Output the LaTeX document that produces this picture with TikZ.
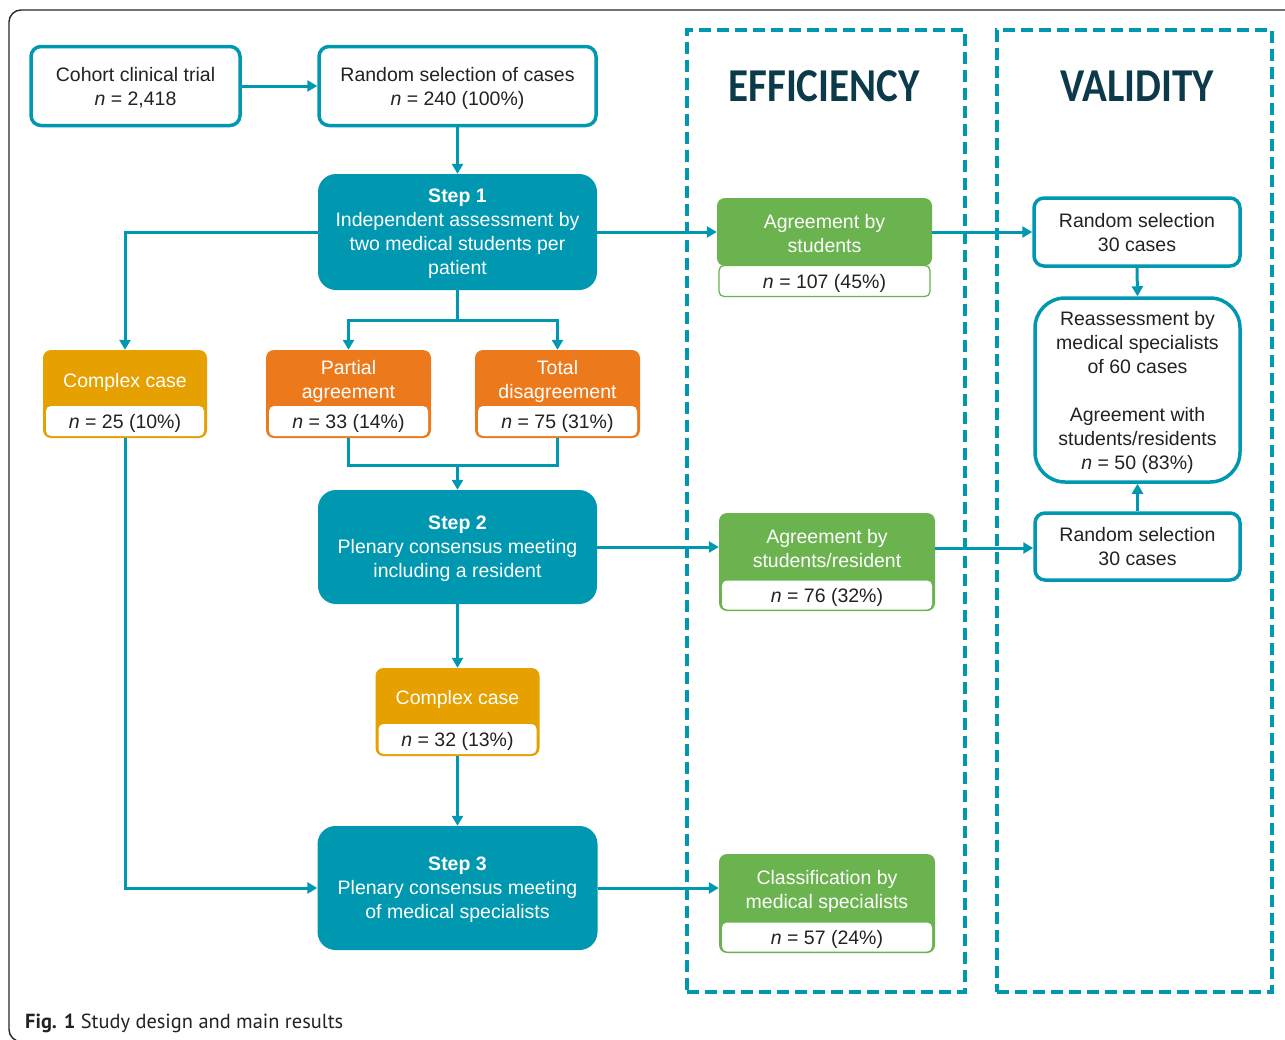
\documentclass[tikz,border=0pt]{standalone}
\usepackage{fontspec}
\setmainfont{Liberation Sans}
\newfontfamily\headfont{Carlito}
\newfontfamily\capfont{PT Sans}
\usetikzlibrary{arrows.meta}

\definecolor{flowteal}{HTML}{0098B1}
\definecolor{caseamber}{HTML}{E6A000}
\definecolor{caseorange}{HTML}{EC7A1C}
\definecolor{agreegreen}{HTML}{6AB34E}
\definecolor{headnavy}{HTML}{0C3A4B}
\definecolor{bodytext}{HTML}{222222}

\tikzset{
  txt/.style={font=\fontsize{19.5}{24}\selectfont, align=center, inner sep=0pt,
    text depth=-1pt},
  whitebox/.style={txt, draw=flowteal, line width=3.5pt, rounded corners=10pt,
    fill=white, text=bodytext},
  stepbox/.style={txt, fill=flowteal, rounded corners=18pt, text=white},
  catbox/.style={inner sep=0pt, fill=#1, rounded corners=8pt},
  cathead/.style={txt, text=white},
  nbox/.style={txt, fill=white, rounded corners=5pt, text=bodytext},
  dashbox/.style={draw=flowteal, line width=3.5pt, dash pattern=on 12pt off 6pt,
    inner sep=0pt},
  conn/.style={draw=flowteal, line width=3pt,
    -{Triangle[length=10pt,width=11pt]}},
  plainline/.style={draw=flowteal, line width=3pt},
  heading/.style={font=\headfont\bfseries\fontsize{41}{41}\selectfont,
    text=headnavy, inner sep=0pt},
}

\begin{document}
\begin{tikzpicture}[x=1pt,y=-1pt]
\useasboundingbox (0,0) rectangle (1285,1039);

% outer frame of the figure
\draw[line width=1.4pt, color=black!85, rounded corners=12pt]
  (1320,10) -- (9,10) -- (9,1041.5) -- (1320,1041.5);

% dashed panels
\node[dashbox, minimum width=278pt, minimum height=962pt] (effpanel) at (826,511) {};
\node[dashbox, minimum width=275pt, minimum height=962pt] (valpanel) at (1134.5,511) {};
\node[heading] (effhead) at (824,86) {\scalebox{1}[1.15]{EFFICIENCY}};
\node[heading] (valhead) at (1137,86) {\scalebox{1}[1.15]{VALIDITY}};

% top row
\node[whitebox, minimum width=209pt, minimum height=79pt] (cohort) at (135.5,86)
  {Cohort clinical trial\\\textit{n} = 2,418};
\node[whitebox, minimum width=277pt, minimum height=79pt] (random) at (457.5,86)
  {Random selection of cases\\\textit{n} = 240 (100\%)};

% step 1
\node[stepbox, minimum width=279pt, minimum height=116pt] (step1) at (457.5,232)
  {\textbf{Step 1}\\Independent assessment by\\two medical students per\\patient};

% complex case (left)
\node[catbox=caseamber, minimum width=164pt, minimum height=88pt] (cc1) at (125,394) {};
\node[cathead] (cc1h) at (125,380) {Complex case};
\node[nbox, minimum width=158pt, minimum height=30pt] (cc1n) at (125,421)
  {\textit{n} = 25 (10\%)};

% partial agreement
\node[catbox=caseorange, minimum width=165pt, minimum height=88pt] (pa) at (348.5,394) {};
\node[cathead] (pah) at (348.5,379) {Partial\\agreement};
\node[nbox, minimum width=159pt, minimum height=30pt] (pan) at (348.5,421)
  {\textit{n} = 33 (14\%)};

% total disagreement
\node[catbox=caseorange, minimum width=165pt, minimum height=88pt] (td) at (557.5,394) {};
\node[cathead] (tdh) at (557.5,379) {Total\\disagreement};
\node[nbox, minimum width=159pt, minimum height=30pt] (tdn) at (557.5,421)
  {\textit{n} = 75 (31\%)};

% step 2
\node[stepbox, minimum width=279pt, minimum height=114pt] (step2) at (457.5,547)
  {\textbf{Step 2}\\Plenary consensus meeting\\including a resident};

% complex case (middle)
\node[catbox=caseamber, minimum width=164pt, minimum height=88pt] (cc2) at (457.5,712) {};
\node[cathead] (cc2h) at (457.5,697) {Complex case};
\node[nbox, minimum width=158pt, minimum height=30pt] (cc2n) at (457.5,739)
  {\textit{n} = 32 (13\%)};

% step 3
\node[stepbox, minimum width=280pt, minimum height=124pt] (step3) at (457.5,888)
  {\textbf{Step 3}\\Plenary consensus meeting\\of medical specialists};

% efficiency results
\node[catbox=agreegreen, minimum width=215pt, minimum height=68pt] (g1) at (824.5,232) {};
\node[cathead] (g1h) at (824.5,233) {Agreement by\\students};
\node[nbox, draw=agreegreen, line width=1.3pt, minimum width=211pt, minimum height=31pt]
  (g1n) at (824.5,281) {\textit{n} = 107 (45\%)};

\node[catbox=agreegreen, minimum width=216pt, minimum height=98pt] (g2) at (827,562) {};
\node[cathead] (g2h) at (827,548) {Agreement by\\students/resident};
\node[nbox, minimum width=210pt, minimum height=29pt] (g2n) at (827,595)
  {\textit{n} = 76 (32\%)};

\node[catbox=agreegreen, minimum width=216pt, minimum height=99pt] (g3) at (827,903.5) {};
\node[cathead] (g3h) at (827,889) {Classification by\\medical specialists};
\node[nbox, minimum width=210pt, minimum height=29pt] (g3n) at (827,937)
  {\textit{n} = 57 (24\%)};

% validity column
\node[whitebox, minimum width=206pt, minimum height=68pt] (val1) at (1137,232)
  {Random selection\\30 cases};
\node[whitebox, rounded corners=30pt, minimum width=205pt, minimum height=184pt]
  (reass) at (1137.5,390)
  {Reassessment by\\medical specialists\\of 60 cases\\[24pt]Agreement with\\students/residents\\\textit{n} = 50 (83\%)};
\node[whitebox, minimum width=205pt, minimum height=67pt] (val2) at (1137.5,546.5)
  {Random selection\\30 cases};

% caption
\node[anchor=base west, inner sep=0pt, font=\capfont\fontsize{20.4}{24}\selectfont,
  text=bodytext] (caption) at (25,1028)
  {\textbf{Fig. 1} Study design and main results};

% connectors
\draw[conn] (cohort) -- (random);
\draw[conn] (random) -- (step1);
\draw[conn] (step1.west) -| (cc1.north);
\draw[conn] (step1.east) -- (step1.east -| g1.west);
\coordinate (split1) at (457.5,320);
\draw[plainline] (step1.south) -- (split1);
\draw[conn] (split1) -| (pa.north);
\draw[conn] (split1) -| (td.north);
\coordinate (merge1) at (457.5,465);
\draw[plainline] (pa.south) |- (merge1) -| (td.south);
\draw[conn] (merge1) -- (step2.north);
\draw[conn] (step2.east) -- (step2.east -| g2.west);
\draw[conn] (step2.south) -- (cc2.north);
\draw[conn] (cc2.south) -- (step3.north);
\draw[conn] (cc1.south) |- (step3.west);
\draw[conn] (step3.east) -- (step3.east -| g3.west);
\draw[conn] (g1.east) -- (g1.east -| val1.west);
\draw[conn] (val1.south) -- (reass.north);
\draw[conn] (val2.north) -- (reass.south);
\draw[conn] (g2h.east -| g2.east) -- (g2h.east -| val2.west);
\end{tikzpicture}
\end{document}
